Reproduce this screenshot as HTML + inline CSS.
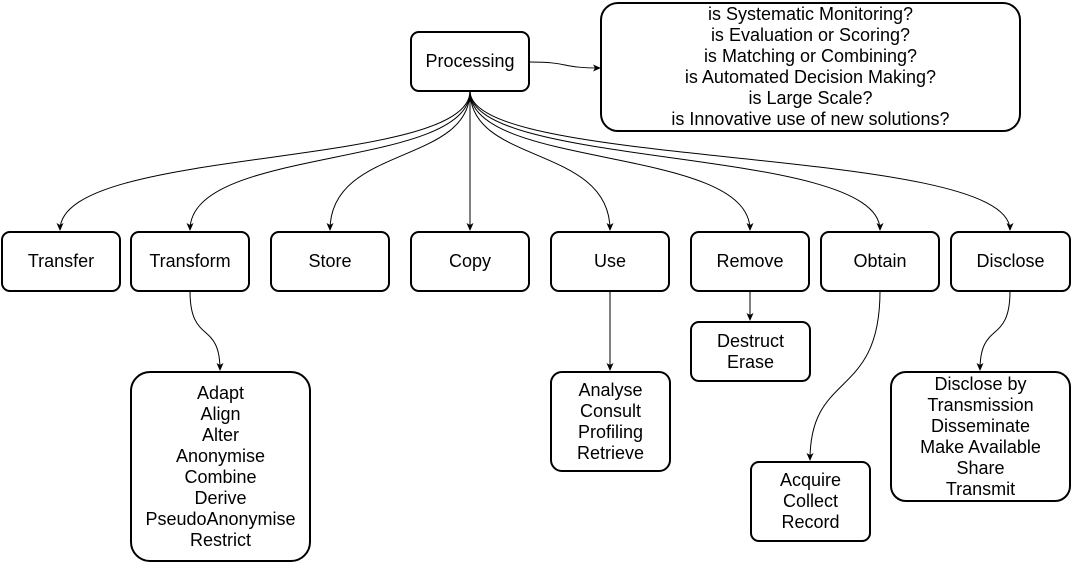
<!DOCTYPE html>
<html><head><style>
body{margin:0;background:#fff;}
.b{position:absolute;border:2px solid #000;border-radius:9px;background:#fff;box-sizing:border-box;display:flex;align-items:center;justify-content:center;text-align:center;font-family:"Liberation Sans",sans-serif;font-size:18px;line-height:21px;white-space:nowrap;}
</style></head><body>
<div style="position:relative;width:1072px;height:563px;overflow:hidden">
<svg width="1072" height="563" style="position:absolute;left:0;top:0">
<defs><marker id="a" markerWidth="8" markerHeight="8" refX="7" refY="4" orient="auto" markerUnits="userSpaceOnUse"><path d="M0,0.5 L8,4 L0,7.5 L2,4z" fill="#000"/></marker></defs>
<g fill="none" stroke="#000" stroke-width="1" marker-end="url(#a)">
<path d="M470,91 C470,170 60,145 60,230"/>
<path d="M470,91 C470,170 190,145 190,230"/>
<path d="M470,91 C470,165 330,145 330,230"/>
<path d="M470,91 L470,230"/>
<path d="M470,91 C470,165 610,145 610,230"/>
<path d="M470,91 C470,170 750,145 750,230"/>
<path d="M470,91 C470,170 880,145 880,230"/>
<path d="M470,91 C470,170 1010,145 1010,230"/>
<path d="M530,62 C570,62 560,68 600,68"/>
<path d="M190,291 C190,345 220,320 220,370"/>
<path d="M610,291 L610,370"/>
<path d="M750,291 L750,320"/>
<path d="M880,291 C880,400 810,370 810,460"/>
<path d="M1010,291 C1010,345 980,320 980,370"/>
</g></svg>
<div class="b" style="left:410px;top:31px;width:120px;height:61px">Processing</div>
<div class="b" style="left:600px;top:2px;width:421px;height:130px;border-radius:18px">is Systematic Monitoring?<br>is Evaluation or Scoring?<br>is Matching or Combining?<br>is Automated Decision Making?<br>is Large Scale?<br>is Innovative use of new solutions?</div>
<div class="b" style="left:1px;top:231px;width:120px;height:61px">Transfer</div>
<div class="b" style="left:130px;top:231px;width:120px;height:61px">Transform</div>
<div class="b" style="left:270px;top:231px;width:120px;height:61px">Store</div>
<div class="b" style="left:410px;top:231px;width:120px;height:61px">Copy</div>
<div class="b" style="left:550px;top:231px;width:120px;height:61px">Use</div>
<div class="b" style="left:690px;top:231px;width:120px;height:61px">Remove</div>
<div class="b" style="left:820px;top:231px;width:120px;height:61px">Obtain</div>
<div class="b" style="left:950px;top:231px;width:121px;height:61px">Disclose</div>
<div class="b" style="left:130px;top:371px;width:181px;height:191px;border-radius:20px">Adapt<br>Align<br>Alter<br>Anonymise<br>Combine<br>Derive<br>PseudoAnonymise<br>Restrict</div>
<div class="b" style="left:550px;top:371px;width:121px;height:101px;border-radius:12px">Analyse<br>Consult<br>Profiling<br>Retrieve</div>
<div class="b" style="left:690px;top:321px;width:121px;height:61px">Destruct<br>Erase</div>
<div class="b" style="left:750px;top:461px;width:121px;height:81px">Acquire<br>Collect<br>Record</div>
<div class="b" style="left:890px;top:371px;width:181px;height:131px;border-radius:16px">Disclose by<br>Transmission<br>Disseminate<br>Make Available<br>Share<br>Transmit</div>
</div>
</body></html>
